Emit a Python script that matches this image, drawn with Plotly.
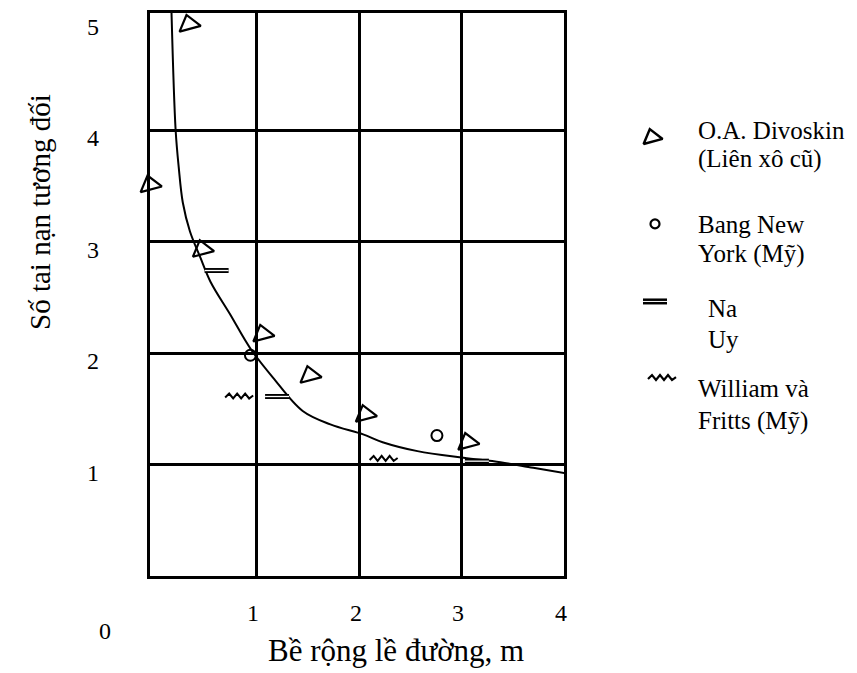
import plotly.graph_objects as go

# ---------------- data ----------------
div_x = [-0.04, 0.34, 0.47, 1.06, 1.52, 2.06, 3.06, 4.05]   # O.A. Divoskin
div_y = [3.51, 4.95, 2.93, 2.17, 1.80, 1.45, 1.20, 0.93]
ny_x = [0.94, 2.76]                                          # Bang New York
ny_y = [1.98, 1.26]
nor_x = [0.61, 1.20, 3.15]                                   # Na Uy
nor_y = [2.74, 1.61, 1.03]
wf_x = [0.83, 2.24]                                          # William và Fritts
wf_y = [1.61, 1.05]
curve_x = [0.17, 0.21, 0.24, 0.28, 0.35, 0.45, 0.55, 0.74, 0.94, 1.16, 1.45,
           1.72, 2.04, 2.23, 2.57, 3.02, 3.38, 3.70, 4.03]
curve_y = [5.05, 4.00, 3.67, 3.35, 3.09, 2.86, 2.64, 2.35, 2.04, 1.78, 1.48,
           1.36, 1.27, 1.20, 1.12, 1.06, 1.02, 0.97, 0.92]
x_ticks = [1, 2, 3, 4]
y_ticks = [1, 2, 3, 4, 5]
x_title = "Bề rộng lề đường, m"
y_title = "Số tai nạn tương đối"
legend_names = [["O.A. Divoskin", "(Liên xô cũ)"],
                ["Bang New", "York (Mỹ)"],
                ["Na", "Uy"],
                ["William và", "Fritts (Mỹ)"]]

# ---------------- layout constants ----------------
OFF = 8                       # page body margin of the browser
W, H = 857 - OFF, 673 - OFF
ML, MR, MT, MB = 150 - OFF, 20, 10 - OFF, 97
PLOT_W_PX = 414               # width of the framed chart
X_RANGE = [-0.04, 4.0]
Y_RANGE = [0.0, 5.05]
plot_w = W - ML - MR
plot_h = H - MT - MB
sx = PLOT_W_PX / (X_RANGE[1] - X_RANGE[0])   # px per x unit
sy = plot_h / (Y_RANGE[1] - Y_RANGE[0])      # px per y unit
FONT = "Liberation Serif, Times New Roman, serif"
BLACK = "black"


def pxx(px):   # page pixel -> paper x
    return (px - OFF - ML) / plot_w


def pxy(py):   # page pixel -> paper y
    return (H - MB - (py - OFF)) / plot_h


ZZ_DX = [-14, -10, -6, -2, 2, 6, 10, 14]
ZZ_DY = [-1, 3, -2, 3, -2, 3, -2, 1]


def zigzag(xs, ys, kx, ky):
    ox, oy = [], []
    for x, y in zip(xs, ys):
        for dx, dy in zip(ZZ_DX, ZZ_DY):
            ox.append(x + dx / kx)
            oy.append(y + dy / ky)
        ox.append(None)
        oy.append(None)
    return ox, oy


def dashes(xs, ys, half, kx):
    ox, oy = [], []
    for x, y in zip(xs, ys):
        ox += [x - half / kx, x + half / kx, None]
        oy += [y, y, None]
    return ox, oy


fig = go.Figure()

# fitted curve
fig.add_trace(go.Scatter(x=curve_x, y=curve_y, mode="lines",
                         line=dict(color=BLACK, width=2, shape="spline"),
                         cliponaxis=False, showlegend=False, hoverinfo="skip"))

# Na Uy dashes (outlined bars)
dx_, dy_ = dashes(nor_x, nor_y, 12, sx)
fig.add_trace(go.Scatter(x=dx_, y=dy_, mode="lines", line=dict(color=BLACK, width=5),
                         cliponaxis=False, showlegend=False, hoverinfo="skip"))
fig.add_trace(go.Scatter(x=dx_, y=dy_, mode="lines", line=dict(color="white", width=1.3),
                         cliponaxis=False, showlegend=False, hoverinfo="skip"))

# William & Fritts zigzags
zx, zy = zigzag(wf_x, wf_y, sx, sy)
fig.add_trace(go.Scatter(x=zx, y=zy, mode="lines", line=dict(color=BLACK, width=2),
                         cliponaxis=False, showlegend=False, hoverinfo="skip"))

# New York circles
fig.add_trace(go.Scatter(x=ny_x, y=ny_y, mode="markers",
                         marker=dict(symbol="circle-open", size=11, color=BLACK,
                                     line=dict(width=2, color=BLACK)),
                         cliponaxis=False, showlegend=False))

# Divoskin triangles
fig.add_trace(go.Scatter(x=div_x, y=div_y, mode="markers",
                         marker=dict(symbol="triangle-up-open", size=19, angle=-15,
                                     color=BLACK, line=dict(width=2.2, color=BLACK)),
                         cliponaxis=False, showlegend=False))

# ---------------- legend (drawn in a page-pixel overlay) ----------------
LX = [652, 655, 655, 662]
LY = [135, 222, 300, 377]
fig.add_trace(go.Scatter(x=[LX[0]], y=[LY[0]], mode="markers", xaxis="x2", yaxis="y2",
                         marker=dict(symbol="triangle-up-open", size=17, angle=-15,
                                     color=BLACK, line=dict(width=2.5, color=BLACK)),
                         cliponaxis=False, showlegend=False, hoverinfo="skip"))
fig.add_trace(go.Scatter(x=[LX[1]], y=[LY[1]], mode="markers", xaxis="x2", yaxis="y2",
                         marker=dict(symbol="circle-open", size=9, color=BLACK,
                                     line=dict(width=2.2, color=BLACK)),
                         cliponaxis=False, showlegend=False, hoverinfo="skip"))
ldx, ldy = dashes([LX[2]], [LY[2]], 12, 1)
fig.add_trace(go.Scatter(x=ldx, y=ldy, mode="lines", xaxis="x2", yaxis="y2",
                         line=dict(color=BLACK, width=6), cliponaxis=False,
                         showlegend=False, hoverinfo="skip"))
fig.add_trace(go.Scatter(x=ldx, y=ldy, mode="lines", xaxis="x2", yaxis="y2",
                         line=dict(color="white", width=1), cliponaxis=False,
                         showlegend=False, hoverinfo="skip"))
lzx, lzy = zigzag([LX[3]], [LY[3]], 1, -1)
fig.add_trace(go.Scatter(x=lzx, y=lzy, mode="lines", xaxis="x2", yaxis="y2",
                         line=dict(color=BLACK, width=2.2), cliponaxis=False,
                         showlegend=False, hoverinfo="skip"))

annotations = []
TEXT_X = [696, 696, 706, 696]
TEXT_Y = [[128, 157], [223, 252], [307, 338], [388, 420]]
for names, tx, tys in zip(legend_names, TEXT_X, TEXT_Y):
    for name, ty in zip(names, tys):
        annotations.append(dict(x=pxx(tx), y=pxy(ty), xref="paper", yref="paper",
                                text=name, showarrow=False, xanchor="left",
                                yanchor="middle",
                                font=dict(family=FONT, size=25, color=BLACK)))

# tick labels
for t in x_ticks:
    annotations.append(dict(x=t, y=0, xref="x", yref="paper", text=str(t),
                            showarrow=False, xanchor="center", yanchor="middle",
                            xshift=-3.5, yshift=-37,
                            font=dict(family=FONT, size=24, color=BLACK)))
annotations.append(dict(x=pxx(105), y=pxy(631), xref="paper", yref="paper", text="0",
                        showarrow=False, xanchor="center", yanchor="middle",
                        font=dict(family=FONT, size=24, color=BLACK)))
for t in y_ticks:
    annotations.append(dict(x=0, y=t, xref="paper", yref="y", text=str(t),
                            showarrow=False, xanchor="center", yanchor="middle",
                            xshift=-57, yshift=-8,
                            font=dict(family=FONT, size=24, color=BLACK)))

# axis titles
annotations.append(dict(x=pxx(396), y=pxy(651), xref="paper", yref="paper", text=x_title,
                        showarrow=False, xanchor="center", yanchor="middle",
                        font=dict(family=FONT, size=31, color=BLACK)))
annotations.append(dict(x=pxx(40), y=pxy(210), xref="paper", yref="paper", text=y_title,
                        showarrow=False, xanchor="center", yanchor="middle",
                        textangle=-90,
                        font=dict(family=FONT, size=29, color=BLACK)))

fig.update_layout(
    width=W, height=H,
    margin=dict(l=ML, r=MR, t=MT, b=MB),
    paper_bgcolor="white",
    plot_bgcolor="rgba(0,0,0,0)",
    showlegend=False,
    font=dict(family=FONT, color=BLACK),
    xaxis=dict(domain=[0, PLOT_W_PX / plot_w], range=X_RANGE, tickvals=x_ticks,
               showticklabels=False, ticks="", showgrid=True, gridcolor=BLACK,
               gridwidth=2.5, zeroline=False, showline=True, linecolor=BLACK,
               linewidth=2.5, mirror=True, fixedrange=True),
    yaxis=dict(range=Y_RANGE, tickvals=y_ticks[:-1], showticklabels=False, ticks="",
               showgrid=True, gridcolor=BLACK, gridwidth=2.5, zeroline=False,
               showline=True, linecolor=BLACK, linewidth=2.5, mirror=True,
               fixedrange=True),
    xaxis2=dict(domain=[0, 1], range=[ML + OFF, W - MR + OFF], anchor="y2",
                visible=False, fixedrange=True),
    yaxis2=dict(domain=[0, 1], range=[H - MB + OFF, MT + OFF], anchor="x2",
                visible=False, fixedrange=True),
    annotations=annotations,
)

fig.write_html("out.html")
